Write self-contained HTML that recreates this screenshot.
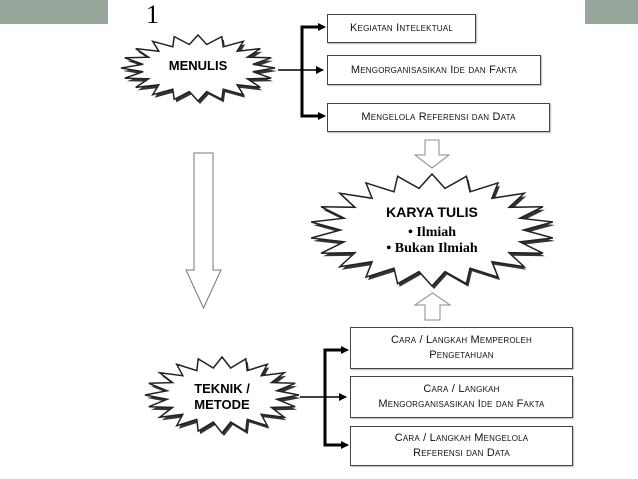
<!DOCTYPE html>
<html><head><meta charset="utf-8"><style>
html,body{margin:0;padding:0;background:#fff;}
body{width:638px;height:479px;overflow:hidden;position:relative;font-family:"Liberation Sans",sans-serif;}
.bar{position:absolute;top:0;height:24px;background:#97a69b;}
.box{position:absolute;border:1px solid #444;background:#fff;font-size:11px;color:#111;text-align:center;display:flex;align-items:center;justify-content:center;line-height:15px;font-variant:small-caps;letter-spacing:0.2px;box-shadow:1px 1px 1px #bbb;}
</style></head><body>
<div class="bar" style="left:0;width:108px"></div>
<div class="bar" style="left:585px;width:53px"></div>
<div style="position:absolute;left:146px;top:0;font-family:'Liberation Serif',serif;font-size:26px;line-height:30px;">1</div>

<svg width="638" height="479" style="position:absolute;left:0;top:0" id="s">
<defs><marker id="ar" markerWidth="8" markerHeight="8" refX="7" refY="4" orient="auto" markerUnits="userSpaceOnUse"><path d="M0,0 L8,4 L0,8 z" fill="#000"/></marker></defs>
<g id="stars"></g>
<!-- top bracket -->
<line x1="278" y1="70" x2="323" y2="70" stroke="#000" stroke-width="1.5" marker-end="url(#ar)"/>
<path d="M323,27 L302,27 L302,116 L323,116" fill="none" stroke="#000" stroke-width="3"/>
<line x1="318" y1="27" x2="325" y2="27" stroke="#000" stroke-width="1.5" marker-end="url(#ar)"/>
<line x1="318" y1="116" x2="325" y2="116" stroke="#000" stroke-width="1.5" marker-end="url(#ar)"/>
<!-- bottom bracket -->
<line x1="300" y1="397" x2="346" y2="397" stroke="#000" stroke-width="1.5" marker-end="url(#ar)"/>
<path d="M346,350 L325,350 L325,445 L346,445" fill="none" stroke="#000" stroke-width="3"/>
<line x1="340" y1="350" x2="348" y2="350" stroke="#000" stroke-width="1.5" marker-end="url(#ar)"/>
<line x1="340" y1="445" x2="348" y2="445" stroke="#000" stroke-width="1.5" marker-end="url(#ar)"/>
<!-- hollow arrows -->
<path d="M194,153 L213,153 L213,270 L221,270 L203.5,308 L186,270 L194,270 Z" fill="#fff" stroke="#777" stroke-width="1"/>
<path d="M425,140 L439,140 L439,155 L449,155 L432,168 L415,155 L425,155 Z" fill="#fff" stroke="#888" stroke-width="1"/>
<path d="M425,320 L440,320 L440,305 L450,305 L432.5,293 L415,305 L425,305 Z" fill="#fff" stroke="#888" stroke-width="1"/>
<text x="198" y="70" font-family="Liberation Sans" font-weight="bold" font-size="13" text-anchor="middle">MENULIS</text>
<text x="432" y="217" font-family="Liberation Sans" font-weight="bold" font-size="14" text-anchor="middle">KARYA TULIS</text>
<text x="432" y="236" font-family="Liberation Serif" font-weight="bold" font-size="14" text-anchor="middle">• Ilmiah</text>
<text x="432" y="252" font-family="Liberation Serif" font-weight="bold" font-size="14" text-anchor="middle">• Bukan Ilmiah</text>
<text x="222" y="393" font-family="Liberation Sans" font-weight="bold" font-size="13" text-anchor="middle">TEKNIK /</text>
<text x="222" y="409" font-family="Liberation Sans" font-weight="bold" font-size="13" text-anchor="middle">METODE</text>
</svg>

<div class="box" style="left:327px;top:14px;width:147px;height:27px;">Kegiatan Intelektual</div>
<div class="box" style="left:327px;top:55px;width:212px;height:28px;">Mengorganisasikan Ide dan Fakta</div>
<div class="box" style="left:327px;top:103px;width:221px;height:27px;">Mengelola Referensi dan Data</div>
<div class="box" style="left:350px;top:327px;width:221px;height:40px;">Cara / Langkah Memperoleh<br>Pengetahuan</div>
<div class="box" style="left:350px;top:376px;width:221px;height:40px;">Cara / Langkah<br>Mengorganisasikan Ide dan Fakta</div>
<div class="box" style="left:350px;top:426px;width:221px;height:38px;">Cara / Langkah Mengelola<br>Referensi dan Data</div>

<script>
function star(cx,cy,rx,ry,n,inner){
  var pts=[];
  for(var i=0;i<n*2;i++){
    var a=Math.PI*i/n - Math.PI/2;
    var f=(i%2==0)?1:inner;
    pts.push((cx+Math.cos(a)*rx*f).toFixed(1)+","+(cy+Math.sin(a)*ry*f).toFixed(1));
  }
  return pts.join(" ");
}
var g=document.getElementById("stars"),h="";
function add(cx,cy,rx,ry,n,inner){
  h+='<polygon points="'+star(cx+2,cy+3,rx,ry,n,inner)+'" fill="#333"/>';
  h+='<polygon points="'+star(cx,cy,rx,ry,n,inner)+'" fill="#fff" stroke="#222" stroke-width="1.5"/>';
}
add(198,68,77,33,20,0.72);
add(432,230,122,56,22,0.75);
add(222,395,77,38,20,0.72);
g.innerHTML=h;
</script>
</body></html>
